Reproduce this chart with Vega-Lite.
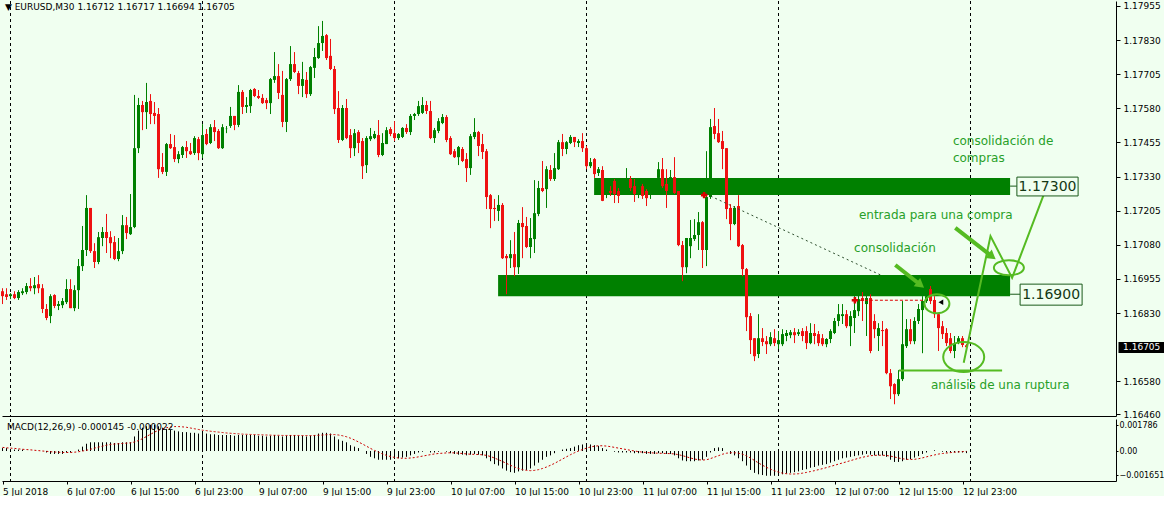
{
"$schema":"https://vega.github.io/schema/vega-lite/v6.json",
"background":"#F0FFF0",
"padding":0,
"bounds":"flush",
"spacing":3,
"config":{"view":{"stroke":null},"font":"DejaVu Sans","axis":{"labelOverlap":false}},
"datasets":{"bars":[
{"i":0,"o":1.16910,"h":1.16921,"l":1.16863,"c":1.16892,"m":0.0002,"s":0.00025},
{"i":1,"o":1.16899,"h":1.16921,"l":1.16878,"c":1.16889,"m":0.0002,"s":0.00022},
{"i":2,"o":1.16892,"h":1.16903,"l":1.16881,"c":1.16899,"m":0.0001,"s":0.0002},
{"i":3,"o":1.16899,"h":1.16910,"l":1.16881,"c":1.16885,"m":0.0001,"s":0.00018},
{"i":4,"o":1.16885,"h":1.16914,"l":1.16878,"c":1.16907,"m":0.0001,"s":0.00015},
{"i":5,"o":1.16903,"h":1.16921,"l":1.16896,"c":1.16910,"m":0.0001,"s":0.00012},
{"i":6,"o":1.16907,"h":1.16940,"l":1.16899,"c":1.16929,"m":0.0,"s":0.0001},
{"i":7,"o":1.16929,"h":1.16958,"l":1.16910,"c":1.16921,"m":0.0,"s":0.00008},
{"i":8,"o":1.16921,"h":1.16962,"l":1.16899,"c":1.16932,"m":0.0,"s":0.00005},
{"i":9,"o":1.16936,"h":1.16969,"l":1.16903,"c":1.16921,"m":0.0,"s":0.00003},
{"i":10,"o":1.16921,"h":1.16936,"l":1.16830,"c":1.16845,"m":0.0,"s":0.0},
{"i":11,"o":1.16845,"h":1.16863,"l":1.16804,"c":1.16812,"m":-0.0001,"s":-0.00002},
{"i":12,"o":1.16819,"h":1.16899,"l":1.16793,"c":1.16892,"m":-0.0002,"s":-0.00005},
{"i":13,"o":1.16896,"h":1.16899,"l":1.16848,"c":1.16856,"m":-0.0002,"s":-0.00007},
{"i":14,"o":1.16856,"h":1.16874,"l":1.16841,"c":1.16863,"m":-0.0002,"s":-0.00008},
{"i":15,"o":1.16859,"h":1.16885,"l":1.16848,"c":1.16874,"m":-0.0002,"s":-0.0001},
{"i":16,"o":1.16870,"h":1.16954,"l":1.16863,"c":1.16918,"m":-0.0001,"s":-0.0001},
{"i":17,"o":1.16918,"h":1.16954,"l":1.16848,"c":1.16848,"m":-0.0001,"s":-0.0001},
{"i":18,"o":1.16848,"h":1.16932,"l":1.16837,"c":1.16914,"m":0.0,"s":-0.00008},
{"i":19,"o":1.16914,"h":1.17028,"l":1.16845,"c":1.17002,"m":0.0001,"s":-0.00005},
{"i":20,"o":1.17002,"h":1.17149,"l":1.16984,"c":1.17061,"m":0.0003,"s":0.0},
{"i":21,"o":1.17061,"h":1.17262,"l":1.17039,"c":1.17215,"m":0.0005,"s":0.00005},
{"i":22,"o":1.17215,"h":1.17215,"l":1.17050,"c":1.17057,"m":0.0006,"s":0.00012},
{"i":23,"o":1.17057,"h":1.17086,"l":1.16995,"c":1.17017,"m":0.0006,"s":0.0002},
{"i":24,"o":1.17017,"h":1.17127,"l":1.17009,"c":1.17108,"m":0.0006,"s":0.00027},
{"i":25,"o":1.17105,"h":1.17145,"l":1.17075,"c":1.17127,"m":0.0006,"s":0.00033},
{"i":26,"o":1.17127,"h":1.17193,"l":1.17050,"c":1.17105,"m":0.0006,"s":0.0004},
{"i":27,"o":1.17108,"h":1.17130,"l":1.17031,"c":1.17086,"m":0.0006,"s":0.00045},
{"i":28,"o":1.17090,"h":1.17112,"l":1.17024,"c":1.17028,"m":0.00055,"s":0.00048},
{"i":29,"o":1.17028,"h":1.17105,"l":1.17020,"c":1.17057,"m":0.00055,"s":0.0005},
{"i":30,"o":1.17057,"h":1.17189,"l":1.17046,"c":1.17152,"m":0.0006,"s":0.00052},
{"i":31,"o":1.17152,"h":1.17182,"l":1.17101,"c":1.17123,"m":0.0006,"s":0.00054},
{"i":32,"o":1.17119,"h":1.17266,"l":1.17116,"c":1.17145,"m":0.0006,"s":0.00056},
{"i":33,"o":1.17145,"h":1.17629,"l":1.17141,"c":1.17434,"m":0.001,"s":0.00062},
{"i":34,"o":1.17434,"h":1.17618,"l":1.17416,"c":1.17592,"m":0.0014,"s":0.00072},
{"i":35,"o":1.17592,"h":1.17607,"l":1.17500,"c":1.17566,"m":0.0016,"s":0.00085},
{"i":36,"o":1.17566,"h":1.17673,"l":1.17504,"c":1.17603,"m":0.0017,"s":0.001},
{"i":37,"o":1.17607,"h":1.17632,"l":1.17522,"c":1.17559,"m":0.0018,"s":0.00115},
{"i":38,"o":1.17563,"h":1.17603,"l":1.17522,"c":1.17552,"m":0.0018,"s":0.0013},
{"i":39,"o":1.17559,"h":1.17581,"l":1.17325,"c":1.17357,"m":0.0017,"s":0.00142},
{"i":40,"o":1.17365,"h":1.17416,"l":1.17339,"c":1.17347,"m":0.0016,"s":0.00152},
{"i":41,"o":1.17347,"h":1.17453,"l":1.17332,"c":1.17449,"m":0.0015,"s":0.0016},
{"i":42,"o":1.17449,"h":1.17486,"l":1.17431,"c":1.17434,"m":0.00145,"s":0.00165},
{"i":43,"o":1.17438,"h":1.17482,"l":1.17383,"c":1.17394,"m":0.0014,"s":0.00168},
{"i":44,"o":1.17394,"h":1.17423,"l":1.17379,"c":1.17412,"m":0.00135,"s":0.00168},
{"i":45,"o":1.17409,"h":1.17442,"l":1.17398,"c":1.17438,"m":0.0013,"s":0.00166},
{"i":46,"o":1.17438,"h":1.17460,"l":1.17398,"c":1.17423,"m":0.0013,"s":0.00163},
{"i":47,"o":1.17423,"h":1.17453,"l":1.17409,"c":1.17412,"m":0.00125,"s":0.00158},
{"i":48,"o":1.17416,"h":1.17478,"l":1.17409,"c":1.17471,"m":0.00125,"s":0.00153},
{"i":49,"o":1.17467,"h":1.17475,"l":1.17390,"c":1.17416,"m":0.0012,"s":0.00148},
{"i":50,"o":1.17412,"h":1.17522,"l":1.17398,"c":1.17482,"m":0.0012,"s":0.00143},
{"i":51,"o":1.17486,"h":1.17504,"l":1.17445,"c":1.17449,"m":0.0012,"s":0.0014},
{"i":52,"o":1.17453,"h":1.17522,"l":1.17449,"c":1.17511,"m":0.00115,"s":0.00136},
{"i":53,"o":1.17511,"h":1.17537,"l":1.17460,"c":1.17493,"m":0.00115,"s":0.00133},
{"i":54,"o":1.17497,"h":1.17504,"l":1.17431,"c":1.17434,"m":0.0011,"s":0.0013},
{"i":55,"o":1.17434,"h":1.17522,"l":1.17431,"c":1.17511,"m":0.0011,"s":0.00127},
{"i":56,"o":1.17504,"h":1.17515,"l":1.17489,"c":1.17505,"m":0.0011,"s":0.00124},
{"i":57,"o":1.17515,"h":1.17585,"l":1.17508,"c":1.17552,"m":0.0011,"s":0.00122},
{"i":58,"o":1.17552,"h":1.17552,"l":1.17500,"c":1.17519,"m":0.00105,"s":0.0012},
{"i":59,"o":1.17519,"h":1.17665,"l":1.17511,"c":1.17640,"m":0.0011,"s":0.00118},
{"i":60,"o":1.17640,"h":1.17647,"l":1.17559,"c":1.17585,"m":0.0011,"s":0.00116},
{"i":61,"o":1.17585,"h":1.17621,"l":1.17563,"c":1.17592,"m":0.0011,"s":0.00115},
{"i":62,"o":1.17588,"h":1.17651,"l":1.17563,"c":1.17647,"m":0.0011,"s":0.00114},
{"i":63,"o":1.17651,"h":1.17654,"l":1.17621,"c":1.17625,"m":0.0011,"s":0.00113},
{"i":64,"o":1.17625,"h":1.17647,"l":1.17614,"c":1.17618,"m":0.00105,"s":0.00112},
{"i":65,"o":1.17618,"h":1.17632,"l":1.17596,"c":1.17599,"m":0.00105,"s":0.00111},
{"i":66,"o":1.17610,"h":1.17618,"l":1.17577,"c":1.17599,"m":0.001,"s":0.0011},
{"i":67,"o":1.17599,"h":1.17691,"l":1.17559,"c":1.17687,"m":0.00105,"s":0.00109},
{"i":68,"o":1.17684,"h":1.17786,"l":1.17673,"c":1.17698,"m":0.0011,"s":0.00108},
{"i":69,"o":1.17698,"h":1.17742,"l":1.17614,"c":1.17636,"m":0.00105,"s":0.00108},
{"i":70,"o":1.17629,"h":1.17717,"l":1.17511,"c":1.17530,"m":0.001,"s":0.00107},
{"i":71,"o":1.17530,"h":1.17691,"l":1.17493,"c":1.17687,"m":0.00105,"s":0.00107},
{"i":72,"o":1.17687,"h":1.17808,"l":1.17680,"c":1.17742,"m":0.0011,"s":0.00107},
{"i":73,"o":1.17742,"h":1.17786,"l":1.17709,"c":1.17713,"m":0.0011,"s":0.00107},
{"i":74,"o":1.17709,"h":1.17717,"l":1.17632,"c":1.17662,"m":0.00105,"s":0.00107},
{"i":75,"o":1.17662,"h":1.17750,"l":1.17621,"c":1.17687,"m":0.00105,"s":0.00106},
{"i":76,"o":1.17684,"h":1.17713,"l":1.17618,"c":1.17632,"m":0.001,"s":0.00106},
{"i":77,"o":1.17632,"h":1.17735,"l":1.17625,"c":1.17731,"m":0.00105,"s":0.00106},
{"i":78,"o":1.17728,"h":1.17801,"l":1.17691,"c":1.17768,"m":0.0011,"s":0.00107},
{"i":79,"o":1.17764,"h":1.17881,"l":1.17761,"c":1.17819,"m":0.0012,"s":0.00108},
{"i":80,"o":1.17819,"h":1.17900,"l":1.17790,"c":1.17845,"m":0.00125,"s":0.0011},
{"i":81,"o":1.17848,"h":1.17852,"l":1.17757,"c":1.17764,"m":0.00125,"s":0.00112},
{"i":82,"o":1.17772,"h":1.17834,"l":1.17720,"c":1.17724,"m":0.0012,"s":0.00113},
{"i":83,"o":1.17724,"h":1.17735,"l":1.17559,"c":1.17577,"m":0.001,"s":0.00113},
{"i":84,"o":1.17581,"h":1.17643,"l":1.17453,"c":1.17464,"m":0.0008,"s":0.0011},
{"i":85,"o":1.17464,"h":1.17592,"l":1.17460,"c":1.17581,"m":0.0007,"s":0.00105},
{"i":86,"o":1.17581,"h":1.17614,"l":1.17467,"c":1.17471,"m":0.0006,"s":0.00098},
{"i":87,"o":1.17482,"h":1.17504,"l":1.17398,"c":1.17434,"m":0.0004,"s":0.00088},
{"i":88,"o":1.17434,"h":1.17504,"l":1.17405,"c":1.17489,"m":0.0003,"s":0.00076},
{"i":89,"o":1.17493,"h":1.17500,"l":1.17416,"c":1.17453,"m":0.0002,"s":0.00062},
{"i":90,"o":1.17460,"h":1.17471,"l":1.17321,"c":1.17368,"m":0.0,"s":0.00048},
{"i":91,"o":1.17372,"h":1.17478,"l":1.17343,"c":1.17471,"m":-0.0002,"s":0.00033},
{"i":92,"o":1.17467,"h":1.17508,"l":1.17460,"c":1.17478,"m":-0.0004,"s":0.00018},
{"i":93,"o":1.17471,"h":1.17497,"l":1.17467,"c":1.17486,"m":-0.0005,"s":0.00004},
{"i":94,"o":1.17482,"h":1.17537,"l":1.17401,"c":1.17409,"m":-0.0006,"s":-0.00008},
{"i":95,"o":1.17409,"h":1.17489,"l":1.17405,"c":1.17453,"m":-0.0006,"s":-0.0002},
{"i":96,"o":1.17449,"h":1.17511,"l":1.17449,"c":1.17500,"m":-0.0006,"s":-0.0003},
{"i":97,"o":1.17504,"h":1.17511,"l":1.17478,"c":1.17486,"m":-0.0006,"s":-0.00038},
{"i":98,"o":1.17489,"h":1.17533,"l":1.17460,"c":1.17471,"m":-0.00055,"s":-0.00044},
{"i":99,"o":1.17471,"h":1.17489,"l":1.17464,"c":1.17486,"m":-0.0005,"s":-0.00048},
{"i":100,"o":1.17475,"h":1.17511,"l":1.17471,"c":1.17508,"m":-0.00045,"s":-0.0005},
{"i":101,"o":1.17508,"h":1.17522,"l":1.17486,"c":1.17493,"m":-0.0004,"s":-0.0005},
{"i":102,"o":1.17493,"h":1.17559,"l":1.17482,"c":1.17552,"m":-0.0003,"s":-0.00048},
{"i":103,"o":1.17552,"h":1.17563,"l":1.17537,"c":1.17559,"m":-0.0002,"s":-0.00045},
{"i":104,"o":1.17559,"h":1.17607,"l":1.17552,"c":1.17588,"m":-0.0001,"s":-0.0004},
{"i":105,"o":1.17563,"h":1.17621,"l":1.17559,"c":1.17592,"m":-0.00005,"s":-0.00035},
{"i":106,"o":1.17592,"h":1.17607,"l":1.17559,"c":1.17570,"m":0.0,"s":-0.0003},
{"i":107,"o":1.17570,"h":1.17607,"l":1.17467,"c":1.17471,"m":-0.0001,"s":-0.00025},
{"i":108,"o":1.17471,"h":1.17508,"l":1.17453,"c":1.17500,"m":-0.0001,"s":-0.0002},
{"i":109,"o":1.17497,"h":1.17544,"l":1.17489,"c":1.17533,"m":-0.00005,"s":-0.00017},
{"i":110,"o":1.17526,"h":1.17559,"l":1.17522,"c":1.17548,"m":0.0,"s":-0.00015},
{"i":111,"o":1.17548,"h":1.17555,"l":1.17456,"c":1.17464,"m":-0.00005,"s":-0.00013},
{"i":112,"o":1.17471,"h":1.17478,"l":1.17409,"c":1.17412,"m":-0.00015,"s":-0.00012},
{"i":113,"o":1.17423,"h":1.17431,"l":1.17398,"c":1.17401,"m":-0.0002,"s":-0.00013},
{"i":114,"o":1.17401,"h":1.17442,"l":1.17372,"c":1.17438,"m":-0.00025,"s":-0.00015},
{"i":115,"o":1.17431,"h":1.17438,"l":1.17383,"c":1.17387,"m":-0.00025,"s":-0.00017},
{"i":116,"o":1.17394,"h":1.17416,"l":1.17310,"c":1.17361,"m":-0.0003,"s":-0.0002},
{"i":117,"o":1.17361,"h":1.17486,"l":1.17336,"c":1.17478,"m":-0.00025,"s":-0.00022},
{"i":118,"o":1.17475,"h":1.17544,"l":1.17467,"c":1.17493,"m":-0.0002,"s":-0.00023},
{"i":119,"o":1.17493,"h":1.17497,"l":1.17405,"c":1.17442,"m":-0.00025,"s":-0.00024},
{"i":120,"o":1.17449,"h":1.17486,"l":1.17394,"c":1.17420,"m":-0.0003,"s":-0.00026},
{"i":121,"o":1.17423,"h":1.17431,"l":1.17211,"c":1.17255,"m":-0.0005,"s":-0.0003},
{"i":122,"o":1.17262,"h":1.17266,"l":1.17141,"c":1.17211,"m":-0.0007,"s":-0.00038},
{"i":123,"o":1.17215,"h":1.17248,"l":1.17167,"c":1.17211,"m":-0.0009,"s":-0.00048},
{"i":124,"o":1.17204,"h":1.17262,"l":1.17167,"c":1.17226,"m":-0.001,"s":-0.0006},
{"i":125,"o":1.17226,"h":1.17233,"l":1.17028,"c":1.17031,"m":-0.0012,"s":-0.00072},
{"i":126,"o":1.17039,"h":1.17046,"l":1.16899,"c":1.17031,"m":-0.00135,"s":-0.00085},
{"i":127,"o":1.17031,"h":1.17097,"l":1.16995,"c":1.17046,"m":-0.00145,"s":-0.00098},
{"i":128,"o":1.17046,"h":1.17127,"l":1.16965,"c":1.16998,"m":-0.0015,"s":-0.0011},
{"i":129,"o":1.16998,"h":1.17171,"l":1.16973,"c":1.17160,"m":-0.0014,"s":-0.0012},
{"i":130,"o":1.17160,"h":1.17218,"l":1.17031,"c":1.17145,"m":-0.00135,"s":-0.00128},
{"i":131,"o":1.17149,"h":1.17182,"l":1.17068,"c":1.17072,"m":-0.0013,"s":-0.00133},
{"i":132,"o":1.17072,"h":1.17178,"l":1.17031,"c":1.17105,"m":-0.0012,"s":-0.00135},
{"i":133,"o":1.17101,"h":1.17317,"l":1.17050,"c":1.17196,"m":-0.001,"s":-0.00133},
{"i":134,"o":1.17193,"h":1.17314,"l":1.17185,"c":1.17288,"m":-0.0008,"s":-0.00128},
{"i":135,"o":1.17288,"h":1.17387,"l":1.17273,"c":1.17277,"m":-0.0006,"s":-0.0012},
{"i":136,"o":1.17284,"h":1.17368,"l":1.17215,"c":1.17357,"m":-0.0004,"s":-0.0011},
{"i":137,"o":1.17354,"h":1.17372,"l":1.17314,"c":1.17321,"m":-0.0003,"s":-0.00098},
{"i":138,"o":1.17321,"h":1.17416,"l":1.17314,"c":1.17361,"m":-0.00015,"s":-0.00085},
{"i":139,"o":1.17357,"h":1.17464,"l":1.17354,"c":1.17456,"m":0.0,"s":-0.0007},
{"i":140,"o":1.17456,"h":1.17486,"l":1.17405,"c":1.17431,"m":0.0001,"s":-0.00055},
{"i":141,"o":1.17431,"h":1.17460,"l":1.17412,"c":1.17456,"m":0.00015,"s":-0.0004},
{"i":142,"o":1.17453,"h":1.17482,"l":1.17449,"c":1.17475,"m":0.0002,"s":-0.00025},
{"i":143,"o":1.17475,"h":1.17475,"l":1.17438,"c":1.17456,"m":0.0003,"s":-0.00012},
{"i":144,"o":1.17453,"h":1.17467,"l":1.17438,"c":1.17460,"m":0.0004,"s":0.0},
{"i":145,"o":1.17460,"h":1.17489,"l":1.17420,"c":1.17434,"m":0.00045,"s":0.0001},
{"i":146,"o":1.17434,"h":1.17442,"l":1.17357,"c":1.17368,"m":0.0005,"s":0.0002},
{"i":147,"o":1.17368,"h":1.17398,"l":1.17361,"c":1.17383,"m":0.00045,"s":0.00028},
{"i":148,"o":1.17394,"h":1.17398,"l":1.17325,"c":1.17339,"m":0.0004,"s":0.00033},
{"i":149,"o":1.17343,"h":1.17365,"l":1.17332,"c":1.17357,"m":0.00035,"s":0.00036},
{"i":150,"o":1.17354,"h":1.17368,"l":1.17240,"c":1.17241,"m":0.0002,"s":0.00036},
{"i":151,"o":1.17266,"h":1.17292,"l":1.17251,"c":1.17277,"m":0.0001,"s":0.00034},
{"i":152,"o":1.17277,"h":1.17295,"l":1.17259,"c":1.17270,"m":0.0,"s":0.0003},
{"i":153,"o":1.17314,"h":1.17321,"l":1.17233,"c":1.17266,"m":-0.00005,"s":0.00025},
{"i":154,"o":1.17277,"h":1.17288,"l":1.17233,"c":1.17259,"m":-0.0001,"s":0.0002},
{"i":155,"o":1.17277,"h":1.17295,"l":1.17266,"c":1.17284,"m":-0.0001,"s":0.00015},
{"i":156,"o":1.17284,"h":1.17361,"l":1.17270,"c":1.17299,"m":-0.0001,"s":0.0001},
{"i":157,"o":1.17321,"h":1.17332,"l":1.17277,"c":1.17288,"m":-0.0001,"s":0.00005},
{"i":158,"o":1.17295,"h":1.17321,"l":1.17237,"c":1.17266,"m":-0.00015,"s":0.0},
{"i":159,"o":1.17277,"h":1.17295,"l":1.17251,"c":1.17288,"m":-0.00015,"s":-0.00004},
{"i":160,"o":1.17295,"h":1.17303,"l":1.17248,"c":1.17259,"m":-0.00015,"s":-0.00008},
{"i":161,"o":1.17277,"h":1.17284,"l":1.17222,"c":1.17251,"m":-0.0002,"s":-0.0001},
{"i":162,"o":1.17266,"h":1.17288,"l":1.17248,"c":1.17284,"m":-0.0002,"s":-0.00012},
{"i":163,"o":1.17273,"h":1.17284,"l":1.17266,"c":1.17277,"m":-0.0002,"s":-0.00014},
{"i":164,"o":1.17325,"h":1.17383,"l":1.17288,"c":1.17357,"m":-0.00015,"s":-0.00015},
{"i":165,"o":1.17357,"h":1.17398,"l":1.17288,"c":1.17295,"m":-0.00015,"s":-0.00016},
{"i":166,"o":1.17303,"h":1.17357,"l":1.17215,"c":1.17277,"m":-0.0002,"s":-0.00017},
{"i":167,"o":1.17295,"h":1.17354,"l":1.17277,"c":1.17328,"m":-0.0002,"s":-0.00018},
{"i":168,"o":1.17328,"h":1.17401,"l":1.17266,"c":1.17270,"m":-0.0003,"s":-0.0002},
{"i":169,"o":1.17277,"h":1.17277,"l":1.17075,"c":1.17079,"m":-0.0005,"s":-0.00025},
{"i":170,"o":1.17079,"h":1.17094,"l":1.16947,"c":1.16998,"m":-0.00065,"s":-0.00032},
{"i":171,"o":1.16998,"h":1.17105,"l":1.16976,"c":1.17105,"m":-0.0007,"s":-0.0004},
{"i":172,"o":1.17075,"h":1.17171,"l":1.17031,"c":1.17105,"m":-0.0007,"s":-0.00048},
{"i":173,"o":1.17101,"h":1.17174,"l":1.17094,"c":1.17116,"m":-0.0007,"s":-0.00055},
{"i":174,"o":1.17116,"h":1.17200,"l":1.17061,"c":1.17163,"m":-0.00065,"s":-0.0006},
{"i":175,"o":1.17163,"h":1.17167,"l":1.16995,"c":1.17061,"m":-0.0006,"s":-0.00062},
{"i":176,"o":1.17061,"h":1.17423,"l":1.17002,"c":1.17255,"m":-0.0004,"s":-0.0006},
{"i":177,"o":1.17255,"h":1.17541,"l":1.17248,"c":1.17511,"m":-0.0001,"s":-0.00052},
{"i":178,"o":1.17515,"h":1.17581,"l":1.17467,"c":1.17486,"m":0.0002,"s":-0.00042},
{"i":179,"o":1.17489,"h":1.17541,"l":1.17453,"c":1.17456,"m":0.00025,"s":-0.00032},
{"i":180,"o":1.17460,"h":1.17497,"l":1.17357,"c":1.17431,"m":0.0002,"s":-0.00022},
{"i":181,"o":1.17434,"h":1.17434,"l":1.17174,"c":1.17211,"m":0.0,"s":-0.00015},
{"i":182,"o":1.17215,"h":1.17229,"l":1.17097,"c":1.17156,"m":-0.0002,"s":-0.00012},
{"i":183,"o":1.17156,"h":1.17222,"l":1.17152,"c":1.17215,"m":-0.0003,"s":-0.00012},
{"i":184,"o":1.17222,"h":1.17262,"l":1.17072,"c":1.17075,"m":-0.0005,"s":-0.00015},
{"i":185,"o":1.17079,"h":1.17083,"l":1.16965,"c":1.16991,"m":-0.0007,"s":-0.00022},
{"i":186,"o":1.16991,"h":1.16995,"l":1.16764,"c":1.16815,"m":-0.001,"s":-0.00033},
{"i":187,"o":1.16819,"h":1.16830,"l":1.16680,"c":1.16731,"m":-0.0013,"s":-0.00048},
{"i":188,"o":1.16738,"h":1.16738,"l":1.16654,"c":1.16672,"m":-0.0015,"s":-0.00065},
{"i":189,"o":1.16680,"h":1.16826,"l":1.16665,"c":1.16738,"m":-0.0016,"s":-0.00082},
{"i":190,"o":1.16738,"h":1.16775,"l":1.16709,"c":1.16724,"m":-0.00165,"s":-0.00098},
{"i":191,"o":1.16727,"h":1.16746,"l":1.16680,"c":1.16716,"m":-0.0017,"s":-0.00112},
{"i":192,"o":1.16716,"h":1.16760,"l":1.16709,"c":1.16742,"m":-0.0017,"s":-0.00125},
{"i":193,"o":1.16738,"h":1.16771,"l":1.16709,"c":1.16720,"m":-0.0017,"s":-0.00136},
{"i":194,"o":1.16716,"h":1.16764,"l":1.16698,"c":1.16731,"m":-0.00165,"s":-0.00145},
{"i":195,"o":1.16716,"h":1.16771,"l":1.16709,"c":1.16753,"m":-0.0016,"s":-0.00152},
{"i":196,"o":1.16746,"h":1.16768,"l":1.16727,"c":1.16757,"m":-0.00155,"s":-0.00156},
{"i":197,"o":1.16749,"h":1.16768,"l":1.16738,"c":1.16760,"m":-0.0015,"s":-0.00158},
{"i":198,"o":1.16760,"h":1.16775,"l":1.16720,"c":1.16749,"m":-0.00145,"s":-0.00158},
{"i":199,"o":1.16753,"h":1.16771,"l":1.16746,"c":1.16760,"m":-0.0014,"s":-0.00156},
{"i":200,"o":1.16764,"h":1.16775,"l":1.16727,"c":1.16746,"m":-0.0013,"s":-0.00152},
{"i":201,"o":1.16764,"h":1.16782,"l":1.16698,"c":1.16720,"m":-0.00125,"s":-0.00147},
{"i":202,"o":1.16720,"h":1.16793,"l":1.16716,"c":1.16757,"m":-0.00115,"s":-0.00141},
{"i":203,"o":1.16757,"h":1.16790,"l":1.16716,"c":1.16746,"m":-0.0011,"s":-0.00135},
{"i":204,"o":1.16753,"h":1.16764,"l":1.16709,"c":1.16720,"m":-0.001,"s":-0.00128},
{"i":205,"o":1.16738,"h":1.16753,"l":1.16709,"c":1.16716,"m":-0.00095,"s":-0.00121},
{"i":206,"o":1.16716,"h":1.16738,"l":1.16705,"c":1.16735,"m":-0.0009,"s":-0.00114},
{"i":207,"o":1.16735,"h":1.16771,"l":1.16720,"c":1.16764,"m":-0.0008,"s":-0.00106},
{"i":208,"o":1.16757,"h":1.16812,"l":1.16753,"c":1.16801,"m":-0.0007,"s":-0.00098},
{"i":209,"o":1.16801,"h":1.16863,"l":1.16782,"c":1.16826,"m":-0.0006,"s":-0.0009},
{"i":210,"o":1.16819,"h":1.16863,"l":1.16790,"c":1.16826,"m":-0.0005,"s":-0.00082},
{"i":211,"o":1.16826,"h":1.16841,"l":1.16775,"c":1.16782,"m":-0.00045,"s":-0.00074},
{"i":212,"o":1.16782,"h":1.16837,"l":1.16709,"c":1.16819,"m":-0.0004,"s":-0.00066},
{"i":213,"o":1.16812,"h":1.16892,"l":1.16757,"c":1.16841,"m":-0.00035,"s":-0.00058},
{"i":214,"o":1.16837,"h":1.16910,"l":1.16819,"c":1.16881,"m":-0.0003,"s":-0.0005},
{"i":215,"o":1.16885,"h":1.16907,"l":1.16801,"c":1.16874,"m":-0.00025,"s":-0.00043},
{"i":216,"o":1.16863,"h":1.16899,"l":1.16746,"c":1.16885,"m":-0.0002,"s":-0.00037},
{"i":217,"o":1.16885,"h":1.16899,"l":1.16683,"c":1.16691,"m":-0.00025,"s":-0.00032},
{"i":218,"o":1.16801,"h":1.16826,"l":1.16738,"c":1.16771,"m":-0.0003,"s":-0.0003},
{"i":219,"o":1.16746,"h":1.16793,"l":1.16691,"c":1.16775,"m":-0.0003,"s":-0.00029},
{"i":220,"o":1.16768,"h":1.16801,"l":1.16709,"c":1.16764,"m":-0.0003,"s":-0.00029},
{"i":221,"o":1.16771,"h":1.16775,"l":1.16606,"c":1.16610,"m":-0.0004,"s":-0.00031},
{"i":222,"o":1.16610,"h":1.16625,"l":1.16515,"c":1.16562,"m":-0.0006,"s":-0.00035},
{"i":223,"o":1.16570,"h":1.16573,"l":1.16496,"c":1.16533,"m":-0.00075,"s":-0.00041},
{"i":224,"o":1.16533,"h":1.16621,"l":1.16526,"c":1.16588,"m":-0.00075,"s":-0.00048},
{"i":225,"o":1.16588,"h":1.16874,"l":1.16581,"c":1.16716,"m":-0.0007,"s":-0.00053},
{"i":226,"o":1.16709,"h":1.16808,"l":1.16702,"c":1.16771,"m":-0.0006,"s":-0.00057},
{"i":227,"o":1.16771,"h":1.16808,"l":1.16716,"c":1.16727,"m":-0.00055,"s":-0.00058},
{"i":228,"o":1.16727,"h":1.16815,"l":1.16716,"c":1.16801,"m":-0.00045,"s":-0.00057},
{"i":229,"o":1.16801,"h":1.16863,"l":1.16790,"c":1.16845,"m":-0.00035,"s":-0.00053},
{"i":230,"o":1.16841,"h":1.16892,"l":1.16683,"c":1.16874,"m":-0.0002,"s":-0.00047},
{"i":231,"o":1.16874,"h":1.16936,"l":1.16867,"c":1.16892,"m":-0.0001,"s":-0.0004},
{"i":232,"o":1.16918,"h":1.16929,"l":1.16863,"c":1.16874,"m":0.0,"s":-0.00033},
{"i":233,"o":1.16878,"h":1.16892,"l":1.16812,"c":1.16826,"m":0.00005,"s":-0.00027},
{"i":234,"o":1.16826,"h":1.16830,"l":1.16691,"c":1.16775,"m":0.0,"s":-0.00021},
{"i":235,"o":1.16782,"h":1.16801,"l":1.16735,"c":1.16753,"m":-0.00005,"s":-0.00017},
{"i":236,"o":1.16757,"h":1.16775,"l":1.16709,"c":1.16720,"m":-0.0001,"s":-0.00014},
{"i":237,"o":1.16738,"h":1.16757,"l":1.16683,"c":1.16691,"m":-0.0001,"s":-0.00011},
{"i":238,"o":1.16691,"h":1.16746,"l":1.16665,"c":1.16720,"m":-0.0001,"s":-0.00008},
{"i":239,"o":1.16720,"h":1.16746,"l":1.16716,"c":1.16738,"m":-0.0001,"s":-0.00006},
{"i":240,"o":1.16738,"h":1.16746,"l":1.16705,"c":1.16713,"m":-0.0001,"s":-0.00004},
{"i":241,"o":1.16712,"h":1.16717,"l":1.16694,"c":1.16705,"m":-0.000145,"s":-0.000022}
]},
"vconcat":[
{
"width":1114,"height":415,
"resolve":{"axis":{"x":"independent","y":"independent"}},
"layer":[
{"data":{"values":[{"g":2},{"g":50},{"g":98},{"g":146},{"g":194},{"g":242}]},
 "mark":{"type":"rule","color":"#000000","strokeWidth":1,"strokeDash":[3,3]},
 "encoding":{"x":{"field":"g","type":"quantitative","title":null,"scale":{"domain":[-0.125,278.375],"nice":false,"zero":false},
   "axis":{"orient":"bottom","labels":false,"ticks":false,"domain":true,"domainColor":"#000000","grid":false,"title":null}}}},
{"mark":{"type":"rule","color":"#8c9c9c","strokeWidth":1},
 "encoding":{"y":{"datum":1.16705,"type":"quantitative","axis":null}}},
{"data":{"values":[{"x1":147.9,"x2":251.9,"y1":1.17325,"y2":1.17262},{"x1":123.9,"x2":251.9,"y1":1.16969,"y2":1.16892}]},
 "mark":{"type":"rect","color":"#008000"},
 "encoding":{"x":{"field":"x1","type":"quantitative","axis":null},"x2":{"field":"x2"},"y":{"field":"y1","type":"quantitative","axis":null},"y2":{"field":"y2"}}},
{"data":{"name":"bars"},
 "mark":{"type":"rule","strokeWidth":1},
 "encoding":{"x":{"field":"i","type":"quantitative","axis":null},
   "y":{"field":"l","type":"quantitative","title":null,"scale":{"domain":[1.16453,1.17973],"nice":false,"zero":false},
     "axis":{"orient":"right","values":[1.17955,1.1783,1.17705,1.1758,1.17455,1.1733,1.17205,1.1708,1.16955,1.1683,1.1658,1.1646],"format":".5f","title":null,"grid":false,"domainColor":"#000000","tickColor":"#000000","tickSize":4,"labelFont":"DejaVu Sans","labelFontSize":9,"labelColor":"#000000","labelPadding":3,"labelFlush":false,"labelOverlap":false,"labelBound":false}},
   "y2":{"field":"h"},
   "color":{"condition":{"test":"datum.c >= datum.o","value":"#008000"},"value":"#ee1111"}}},
{"data":{"name":"bars"},
 "mark":{"type":"rule","strokeWidth":3},
 "encoding":{"x":{"field":"i","type":"quantitative","axis":null},"y":{"field":"o","type":"quantitative","axis":null},"y2":{"field":"c"},
   "color":{"condition":{"test":"datum.c >= datum.o","value":"#008000"},"value":"#ee1111"}}},
{"data":{"values":[{"g":"t","k":1,"x":175.9,"y":1.17266},{"g":"t","k":2,"x":219.9,"y":1.16967}]},
 "mark":{"type":"line","color":"#2f4f2f","strokeWidth":1,"strokeDash":[2,3]},
 "encoding":{"x":{"field":"x","type":"quantitative","axis":null},"y":{"field":"y","type":"quantitative","axis":null},"detail":{"field":"g"},"order":{"field":"k"}}},
{"data":{"values":[{"g":"r","k":1,"x":213.1,"y":1.16877},{"g":"r","k":2,"x":230.9,"y":1.16877}]},
 "mark":{"type":"line","color":"#dd0000","strokeWidth":1,"strokeDash":[3,2]},
 "encoding":{"x":{"field":"x","type":"quantitative","axis":null},"y":{"field":"y","type":"quantitative","axis":null},"detail":{"field":"g"},"order":{"field":"k"}}},
{"data":{"values":[{"x":213.1,"y":1.16877},{"x":175.4,"y":1.17262}]},
 "mark":{"type":"point","shape":"cross","filled":true,"size":40,"color":"#dd0000","opacity":1},
 "encoding":{"x":{"field":"x","type":"quantitative","axis":null},"y":{"field":"y","type":"quantitative","axis":null}}},
{"data":{"values":[{"x":234.6,"y":1.1687}]},
 "mark":{"type":"point","shape":"triangle-left","filled":true,"size":30,"color":"#000000","opacity":1},
 "encoding":{"x":{"field":"x","type":"quantitative","axis":null},"y":{"field":"y","type":"quantitative","axis":null}}},
{"data":{"values":[{"g":"zz","k":1,"x":240.3,"y":1.16648},{"g":"zz","k":2,"x":247.0,"y":1.17112},{"g":"zz","k":3,"x":252.4,"y":1.16959},{"g":"zz","k":4,"x":260.5,"y":1.17271},{"g":"hz","k":1,"x":224.1,"y":1.1662},{"g":"hz","k":2,"x":249.9,"y":1.1662}]},
 "mark":{"type":"line","color":"#55bb22","strokeWidth":2},
 "encoding":{"x":{"field":"x","type":"quantitative","axis":null},"y":{"field":"y","type":"quantitative","axis":null},"detail":{"field":"g"},"order":{"field":"k"}}},
{"data":{"values":[{"g":"a1","k":1,"x":238.2,"y":1.17142},{"g":"a1","k":2,"x":246.8,"y":1.17044},{"g":"a2","k":1,"x":223.2,"y":1.17006},{"g":"a2","k":2,"x":228.9,"y":1.1694}]},
 "mark":{"type":"line","color":"#55bb22","strokeWidth":4},
 "encoding":{"x":{"field":"x","type":"quantitative","axis":null},"y":{"field":"y","type":"quantitative","axis":null},"detail":{"field":"g"},"order":{"field":"k"}}},
{"data":{"values":[{"x":247.4,"y":1.17037},{"x":229.5,"y":1.16933}]},
 "mark":{"type":"point","shape":"triangle-up","angle":128,"filled":true,"size":110,"color":"#55bb22","opacity":1},
 "encoding":{"x":{"field":"x","type":"quantitative","axis":null},"y":{"field":"y","type":"quantitative","axis":null}}},
{"data":{"values":[{"x":233.6,"y":1.16864}]},
 "mark":{"type":"point","shape":"M -1 0 A 1 0.76 0 1 1 1 0 A 1 0.76 0 1 1 -1 0 Z","filled":false,"size":625,"color":"#55bb22","strokeWidth":2,"opacity":1},
 "encoding":{"x":{"field":"x","type":"quantitative","axis":null},"y":{"field":"y","type":"quantitative","axis":null}}},
{"data":{"values":[{"x":251.6,"y":1.16996}]},
 "mark":{"type":"point","shape":"M -1 0 A 1 0.5 0 1 1 1 0 A 1 0.5 0 1 1 -1 0 Z","filled":false,"size":900,"color":"#55bb22","strokeWidth":2,"opacity":1},
 "encoding":{"x":{"field":"x","type":"quantitative","axis":null},"y":{"field":"y","type":"quantitative","axis":null}}},
{"data":{"values":[{"x":240.3,"y":1.16669}]},
 "mark":{"type":"point","shape":"M -1 0 A 1 0.73 0 1 1 1 0 A 1 0.73 0 1 1 -1 0 Z","filled":false,"size":1681,"color":"#55bb22","strokeWidth":2,"opacity":1},
 "encoding":{"x":{"field":"x","type":"quantitative","axis":null},"y":{"field":"y","type":"quantitative","axis":null}}},
{"data":{"values":[{"t":"consolidación de","x":237.6,"y":1.1746},{"t":"compras","x":237.6,"y":1.17398},{"t":"entrada para una compra","x":214.1,"y":1.17189},{"t":"consolidación","x":212.9,"y":1.17068},{"t":"análisis de una ruptura","x":232.1,"y":1.16566}]},
 "mark":{"type":"text","align":"left","baseline":"middle","font":"DejaVu Sans","fontSize":12,"color":"#28a028"},
 "encoding":{"x":{"field":"x","type":"quantitative","axis":null},"y":{"field":"y","type":"quantitative","axis":null},"text":{"field":"t"}}},
{"data":{"values":[{"x1":251.9,"x2":253.6,"y":1.17295},{"x1":251.9,"x2":254.4,"y":1.16899}]},
 "mark":{"type":"rule","color":"#1a5a1a","strokeWidth":1},
 "encoding":{"x":{"field":"x1","type":"quantitative","axis":null},"x2":{"field":"x2"},"y":{"field":"y","type":"quantitative","axis":null}}},
{"data":{"values":[{"x1":253.6,"x2":268.9,"y1":1.17328,"y2":1.17259},{"x1":254.4,"x2":269.9,"y1":1.16936,"y2":1.16859}]},
 "mark":{"type":"rect","fill":"#F0FFF0","stroke":"#1a5a1a","strokeWidth":1},
 "encoding":{"x":{"field":"x1","type":"quantitative","axis":null},"x2":{"field":"x2"},"y":{"field":"y1","type":"quantitative","axis":null},"y2":{"field":"y2"}}},
{"data":{"values":[{"t":"1.17300","x":261.25,"y":1.17293},{"t":"1.16900","x":262.15,"y":1.16898}]},
 "mark":{"type":"text","align":"center","baseline":"middle","font":"DejaVu Sans","fontSize":14,"color":"#143814"},
 "encoding":{"x":{"field":"x","type":"quantitative","axis":null},"y":{"field":"y","type":"quantitative","axis":null},"text":{"field":"t"}}},
{"data":{"values":[{"x1":279.0,"x2":290.6,"y1":1.16724,"y2":1.16684}]},
 "mark":{"type":"rect","color":"#000000"},
 "encoding":{"x":{"field":"x1","type":"quantitative","axis":null},"x2":{"field":"x2"},"y":{"field":"y1","type":"quantitative","axis":null},"y2":{"field":"y2"}}},
{"data":{"values":[{"t":"1.16705","x":284.8,"y":1.16705}]},
 "mark":{"type":"text","align":"center","baseline":"middle","font":"DejaVu Sans","fontSize":9,"color":"#ffffff"},
 "encoding":{"x":{"field":"x","type":"quantitative","axis":null},"y":{"field":"y","type":"quantitative","axis":null},"text":{"field":"t"}}},
{"data":{"values":[{"t":"▼ EURUSD,M30  1.16712 1.16717 1.16694 1.16705","x":0.6,"y":1.17951}]},
 "mark":{"type":"text","align":"left","baseline":"middle","font":"DejaVu Sans","fontSize":9,"color":"#000000"},
 "encoding":{"x":{"field":"x","type":"quantitative","axis":null},"y":{"field":"y","type":"quantitative","axis":null},"text":{"field":"t"}}}
]
},
{
"width":1114,"height":62,
"resolve":{"axis":{"x":"independent","y":"independent"}},
"layer":[
{"data":{"values":[{"g":2},{"g":50},{"g":98},{"g":146},{"g":194},{"g":242}]},
 "mark":{"type":"rule","color":"#000000","strokeWidth":1,"strokeDash":[3,3]},
 "encoding":{"x":{"field":"g","type":"quantitative","title":null,"scale":{"domain":[-0.125,278.375],"nice":false,"zero":false},
   "axis":{"orient":"bottom","values":[0,16,32,48,64,80,96,112,128,144,160,176,192,208,224,240],
     "labelExpr":"['5 Jul 2018','6 Jul 07:00','6 Jul 15:00','6 Jul 23:00','9 Jul 07:00','9 Jul 15:00','9 Jul 23:00','10 Jul 07:00','10 Jul 15:00','10 Jul 23:00','11 Jul 07:00','11 Jul 15:00','11 Jul 23:00','12 Jul 07:00','12 Jul 15:00','12 Jul 23:00'][round(datum.value/16)]",
     "labelAlign":"left","labelFlush":false,"labelOverlap":false,"labelBound":false,"tickSize":3,"tickColor":"#000000","domainColor":"#000000","labelFont":"DejaVu Sans","labelFontSize":9,"labelColor":"#000000","labelPadding":3,"grid":false,"title":null}}}},
{"data":{"name":"bars"},
 "mark":{"type":"rule","color":"#000000","strokeWidth":1},
 "encoding":{"x":{"field":"i","type":"quantitative","axis":null},
   "y":{"field":"m","type":"quantitative","title":null,"scale":{"domain":[-0.00206,0.0022],"nice":false,"zero":false},
     "axis":{"orient":"right","values":[0.001786,0,-0.001651],"labelExpr":"datum.value == 0 ? '0.00' : format(datum.value, '.6f')","title":null,"grid":false,"domainColor":"#000000","tickColor":"#000000","tickSize":2,"labelFont":"DejaVu Sans","labelFontSize":8,"labelColor":"#000000","labelPadding":1,"labelFlush":false,"labelOverlap":false,"labelBound":false}},
   "y2":{"datum":0}}},
{"data":{"name":"bars"},
 "mark":{"type":"line","color":"#cc0000","strokeWidth":1,"strokeDash":[2,2]},
 "encoding":{"x":{"field":"i","type":"quantitative","axis":null},"y":{"field":"s","type":"quantitative","axis":null}}},
{"mark":{"type":"rule","color":"#000000","strokeWidth":1},
 "encoding":{"y":{"datum":0.0022,"type":"quantitative","axis":null}}},
{"data":{"values":[{"t":"MACD(12,26,9) -0.000145 -0.000022","x":1.1,"y":0.00165}]},
 "mark":{"type":"text","align":"left","baseline":"middle","font":"DejaVu Sans","fontSize":9,"color":"#000000"},
 "encoding":{"x":{"field":"x","type":"quantitative","axis":null},"y":{"field":"y","type":"quantitative","axis":null},"text":{"field":"t"}}}
]
}
]
}
